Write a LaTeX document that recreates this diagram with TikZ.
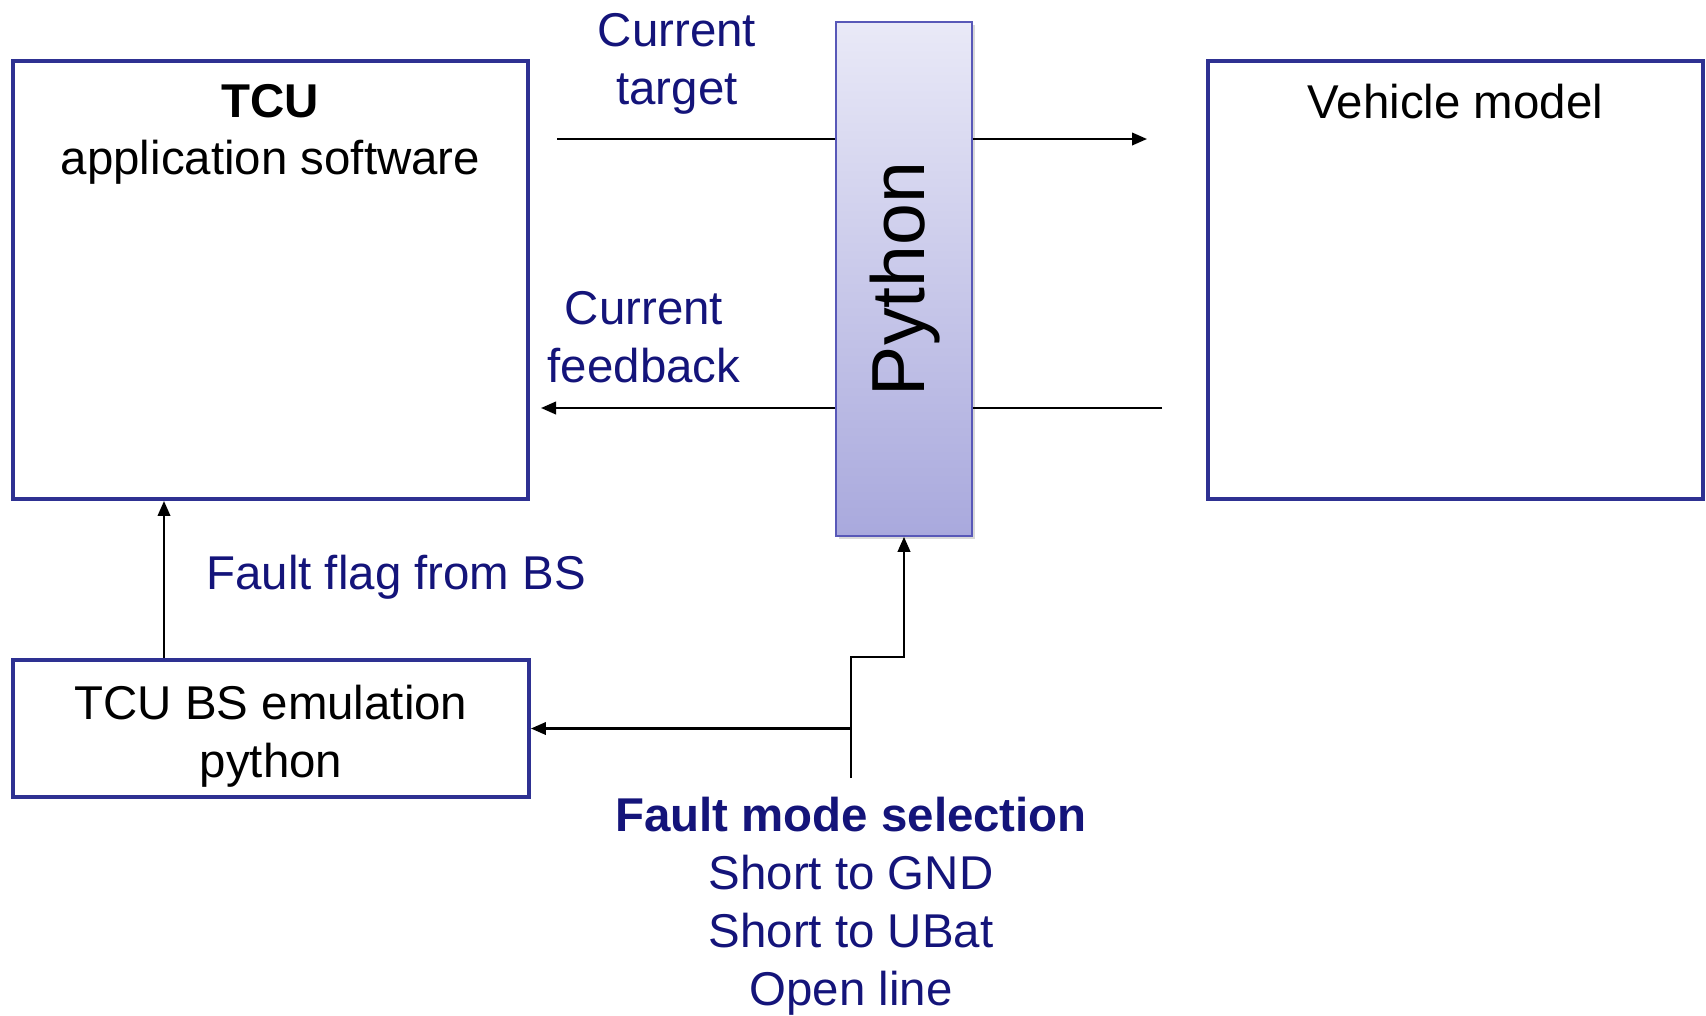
\documentclass[tikz,border=0pt]{standalone}
\usepackage{fontspec}
\setmainfont{Liberation Sans}
\usetikzlibrary{positioning,arrows.meta,shadows}
\definecolor{boxblue}{HTML}{2E3192}
\definecolor{labelblue}{HTML}{14147A}
\definecolor{pytop}{HTML}{E9E9F7}
\definecolor{pybot}{HTML}{A9A9DD}
\definecolor{pyline}{HTML}{5858B8}

\begin{document}
\begin{tikzpicture}[
    x=0.02cm, y=-0.02cm,
    box/.style={rectangle, draw=boxblue, line width=2.3pt, inner sep=0pt},
    pybox/.style={rectangle, draw=pyline, line width=1pt, top color=pytop, bottom color=pybot,
      drop shadow={shadow xshift=1.5pt, shadow yshift=-1.5pt, opacity=0.3}},
    txt/.style={inner sep=0pt, align=center, font=\fontsize{27}{33}\selectfont},
    lbl/.style={txt, text=labelblue},
    wire/.style={line width=1.3pt},
    >={Triangle[length=0.3cm, width=0.25cm]}
  ]
  \useasboundingbox (0,0) rectangle (1706,1015);
  \node[box, minimum width=10.3cm, minimum height=8.76cm] (tcu) at (270.5,280) {};
  \node[box, minimum width=9.9cm, minimum height=8.76cm] (veh) at (1455.5,280) {};
  \node[box, minimum width=10.32cm, minimum height=2.74cm] (bs) at (271,728.5) {};
  \node[txt, below=0.49cm of tcu.north] (tcutxt) {\textbf{TCU}\\application software};
  \node[txt, below=0.49cm of veh.north] (vehtxt) {Vehicle model};
  \node[txt, below=0.53cm of bs.north] (bstxt) {TCU BS emulation\\python};

  % signals between the models
  \coordinate (ctin) at (557,139);
  \coordinate (ctout) at (1147,139);
  \coordinate (cfin) at (1162,408);
  \coordinate (cfout) at (541,408);
  \node[pybox, minimum width=2.72cm, minimum height=10.28cm] (py) at (904,279) {};
  \node[rotate=90, inner sep=0pt, font=\fontsize{42.8}{50}\selectfont] (pytxt) at (905,279) {Python};
  \draw[wire] (ctin) -- (ctin -| py.west);
  \draw[wire,->] (ctin -| py.east) -- (ctout);
  \draw[wire] (cfin) -- (cfin -| py.east);
  \draw[wire,->] (cfin -| py.west) -- (cfout);
  \node[lbl, anchor=north] (cttxt) at (677,13) {Current\\target};
  \node[lbl, anchor=north] (cftxt) at (644,291) {Current\\feedback};

  % fault flag
  \coordinate (ff) at (164,0);
  \draw[wire,->] (bs.north -| ff) -- (tcu.south -| ff);
  \node[lbl, anchor=north west] (fftxt) at (206,555) {Fault flag from BS};

  % fault mode selection
  \coordinate (fsel) at (851,778);
  \coordinate (fbend) at (851,657);
  \draw[wire,->] (fsel) -- (fbend) -| (py.south);
  \draw[wire,->] (fsel |- bs.east) -- (bs.east);
  \node[lbl, anchor=north] (fmtxt) at (851,797) {\textbf{Fault mode selection}\\Short to GND\\Short to UBat\\Open line};
\end{tikzpicture}
\end{document}
